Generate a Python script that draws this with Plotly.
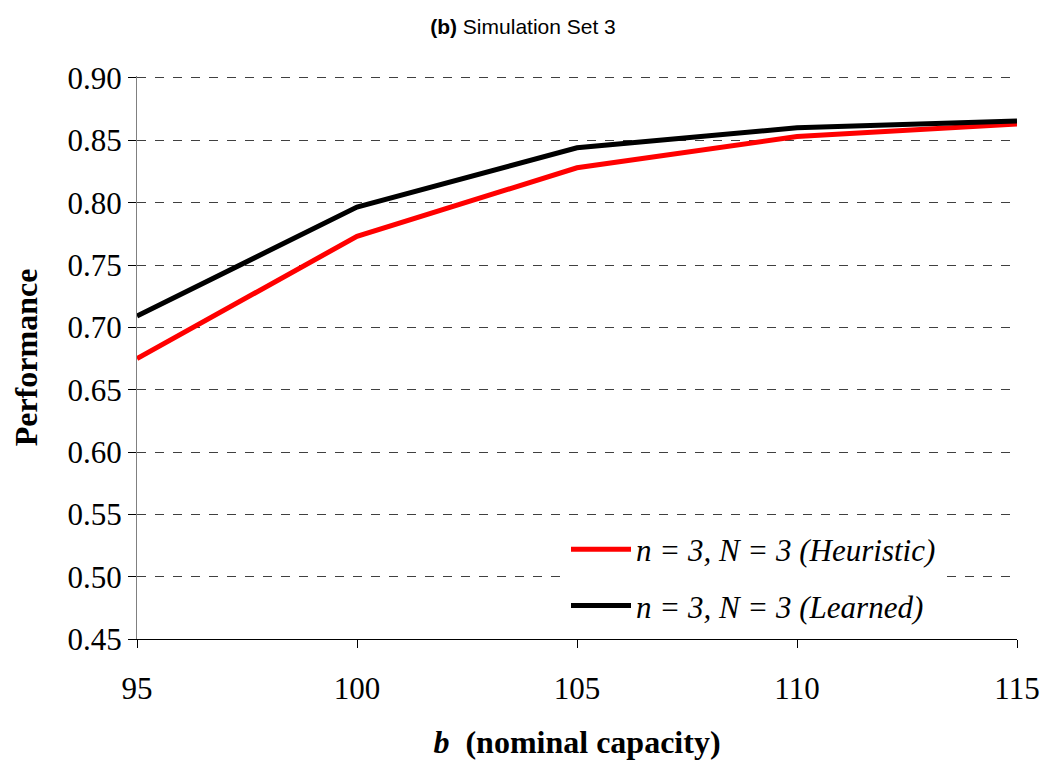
import plotly.graph_objects as go

capacity = [95, 100, 105, 110, 115]
heuristic = [0.675, 0.773, 0.828, 0.853, 0.863]
learned = [0.709, 0.7965, 0.844, 0.860, 0.8655]
y_ticks = [0.45, 0.50, 0.55, 0.60, 0.65, 0.70, 0.75, 0.80, 0.85, 0.90]
x_ticks = [95, 100, 105, 110, 115]

serif = "Liberation Serif, Times New Roman, serif"

fig = go.Figure()
fig.add_trace(go.Scatter(x=capacity, y=heuristic, mode="lines",
                         line=dict(color="#ff0000", width=5),
                         name="n = 3, N = 3 (Heuristic)", legendgroup="a"))
fig.add_trace(go.Scatter(x=capacity, y=learned, mode="lines",
                         line=dict(color="#000000", width=5),
                         name="n = 3, N = 3 (Learned)", legendgroup="b"))

fig.update_layout(
    width=1046, height=760,
    margin=dict(l=137, r=29, t=76, b=121, autoexpand=False),
    paper_bgcolor="white", plot_bgcolor="white",
    title=dict(text="<b>(b)</b> Simulation Set 3", x=0.5, xanchor="center",
               y=1 - 27 / 760, yanchor="middle",
               font=dict(family="Liberation Sans, Arial, sans-serif", size=21, color="black")),
    xaxis=dict(range=[95, 115], tickvals=x_ticks, ticks="outside", ticklen=8,
               tickcolor="black", showline=True, linecolor="black", linewidth=1,
               showgrid=False, zeroline=False, ticklabelstandoff=14, automargin=False,
               tickfont=dict(family=serif, size=31, color="black"),
               title=dict(text="<b><i>b</i>  (nominal capacity)</b>",
                          font=dict(family=serif, size=32, color="black"), standoff=26)),
    yaxis=dict(range=[0.45, 0.9016], tickvals=y_ticks, tickformat=".2f",
               ticks="outside", ticklen=8, tickcolor="black",
               showline=True, linecolor="#808080", linewidth=1,
               showgrid=True, gridcolor="#404040", gridwidth=1, griddash="dash",
               zeroline=False, automargin=False,
               tickfont=dict(family=serif, size=31, color="black"),
               title=dict(text="<b>Performance</b>",
                          font=dict(family=serif, size=32, color="black"), standoff=20)),
    legend=dict(x=0.4875, y=0.109, xanchor="left", yanchor="middle",
                bgcolor="white", borderwidth=0, traceorder="grouped",
                tracegroupgap=13, itemwidth=60,
                font=dict(family=serif, size=31, color="black", style="italic")),
    showlegend=True,
)

fig.write_html("out.html")
